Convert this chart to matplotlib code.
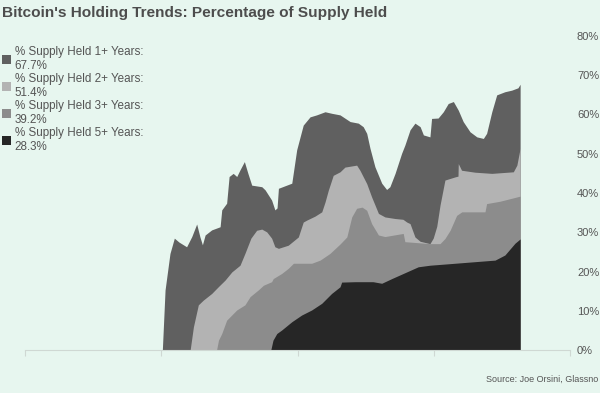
import matplotlib
matplotlib.use("Agg")
import matplotlib.pyplot as plt
from matplotlib.patches import Patch

plt.rcParams['font.family'] = ['Liberation Sans', 'DejaVu Sans']

# % of bitcoin supply last moved more than N years ago
yrs_1y = [2010.04, 2010.14, 2010.32, 2010.48, 2010.65, 2010.93, 2011.12, 2011.30, 2011.42, 2011.51,
          2011.61, 2011.85, 2012.16, 2012.22, 2012.40, 2012.49, 2012.64, 2012.77, 2012.89, 2013.05,
          2013.18, 2013.32, 2013.69, 2013.81, 2014.05, 2014.17, 2014.25, 2014.30, 2014.79, 2014.97,
          2015.21, 2015.46, 2015.70, 2016.01, 2016.26, 2016.56, 2016.93, 2017.23, 2017.41, 2017.54,
          2017.66, 2017.84, 2018.09, 2018.27, 2018.39, 2018.58, 2018.82, 2018.94, 2019.13, 2019.31,
          2019.50, 2019.62, 2019.86, 2019.92, 2020.16, 2020.35, 2020.53, 2020.72, 2020.90, 2021.08,
          2021.33, 2021.58, 2021.82, 2021.94, 2022.13, 2022.31, 2022.61, 2022.86, 2023.09, 2023.17]
held_1y = [0.0, 15.3, 24.6, 28.5, 27.5, 26.3, 28.9, 32.1, 28.8, 26.8,
           29.3, 30.6, 31.4, 35.7, 37.4, 44.2, 45.0, 44.2, 45.9, 48.0,
           45.0, 42.0, 41.6, 40.8, 38.2, 35.7, 36.2, 41.2, 42.5, 51.0,
           57.3, 59.4, 59.9, 60.7, 60.3, 59.9, 58.2, 57.8, 56.9, 55.2,
           51.4, 46.7, 42.5, 40.9, 41.6, 45.0, 50.1, 52.2, 56.1, 57.8,
           56.9, 54.8, 54.3, 59.0, 59.1, 60.7, 62.8, 63.3, 61.1, 58.2,
           55.6, 54.3, 53.9, 55.2, 60.7, 65.0, 65.8, 66.2, 66.8, 67.7]

yrs_2y = [2011.06, 2011.18, 2011.36, 2011.54, 2011.85, 2012.09, 2012.34, 2012.59, 2012.89, 2013.07,
          2013.29, 2013.50, 2013.69, 2013.87, 2014.05, 2014.17, 2014.30, 2014.66, 2015.03, 2015.21,
          2015.34, 2015.64, 2015.89, 2016.01, 2016.13, 2016.31, 2016.56, 2016.74, 2017.17, 2017.29,
          2017.54, 2017.72, 2017.97, 2018.21, 2018.58, 2018.87, 2019.01, 2019.13, 2019.31, 2019.50,
          2019.86, 2019.98, 2020.11, 2020.23, 2020.41, 2020.78, 2020.89, 2020.90, 2021.02, 2021.51,
          2022.13, 2022.92, 2023.05, 2023.17]
held_2y = [0.0, 5.9, 11.5, 12.7, 14.4, 16.1, 17.8, 19.9, 21.6, 24.6,
           28.5, 30.5, 30.8, 30.1, 28.5, 26.3, 25.9, 26.7, 28.8, 32.6,
           33.1, 34.1, 35.2, 37.7, 40.7, 44.5, 45.4, 46.6, 47.1, 45.8,
           42.4, 39.0, 34.8, 33.9, 33.5, 33.3, 32.6, 32.2, 28.8, 27.7,
           27.1, 28.5, 31.5, 36.9, 43.3, 44.1, 44.3, 47.5, 45.8, 45.3,
           45.0, 45.4, 47.1, 51.4]

yrs_3y = [2012.03, 2012.10, 2012.22, 2012.40, 2012.77, 2013.07, 2013.26, 2013.56, 2013.75, 2014.05,
          2014.11, 2014.42, 2014.66, 2014.85, 2015.52, 2015.83, 2016.19, 2016.56, 2016.81, 2016.99,
          2017.17, 2017.37, 2017.54, 2017.72, 2017.97, 2018.21, 2018.88, 2018.94, 2019.86, 2020.23,
          2020.41, 2020.60, 2020.84, 2021.03, 2021.88, 2021.94, 2022.43, 2023.17]
held_3y = [0.0, 2.5, 4.2, 7.6, 10.2, 11.5, 13.6, 15.3, 16.5, 17.4,
           18.2, 19.5, 20.8, 22.1, 22.1, 22.9, 24.6, 27.0, 28.8, 33.9,
           36.1, 36.4, 35.6, 32.2, 29.3, 28.9, 29.7, 27.6, 27.1, 27.1,
           28.4, 30.5, 34.3, 35.2, 35.2, 37.3, 37.9, 39.2]

yrs_5y = [2014.02, 2014.10, 2014.24, 2014.42, 2014.79, 2015.15, 2015.52, 2015.89, 2016.25, 2016.56,
          2016.62, 2017.11, 2017.77, 2018.09, 2018.46, 2019.01, 2019.43, 2019.86, 2020.60, 2021.51,
          2022.25, 2022.61, 2022.98, 2023.17]
held_5y = [0.0, 2.5, 4.2, 5.1, 7.2, 8.9, 10.2, 11.9, 14.4, 16.1,
           17.3, 17.4, 17.4, 17.0, 18.2, 19.9, 21.2, 21.6, 22.0, 22.5,
           22.9, 24.2, 27.2, 28.3]

labels = ['% Supply Held 1+ Years:\n67.7%', '% Supply Held 2+ Years:\n51.4%',
          '% Supply Held 3+ Years:\n39.2%', '% Supply Held 5+ Years:\n28.3%']
colors = ['#606060', '#b3b3b3', '#8c8c8c', '#262626']
yticks = [0, 10, 20, 30, 40, 50, 60, 70, 80]

bg = '#e7f6ef'
fig = plt.figure(figsize=(6, 3.93), dpi=100, facecolor=bg)
ax = fig.add_axes([25/600, 1-350/393, 545/600, 314/393])
ax.set_facecolor(bg)

series = [(yrs_1y, held_1y), (yrs_2y, held_2y), (yrs_3y, held_3y), (yrs_5y, held_5y)]
for (x, y), c in zip(series, colors):
    ax.fill_between(x, 0, y, color=c, linewidth=0)

ax.set_xlim(2005, 2025)
ax.set_ylim(0, 80)
ax.set_xticks([2005, 2010, 2015, 2020, 2025])
ax.set_xticklabels([])
ax.tick_params(axis='x', length=4.5, width=0.8, color='#cfd8d3', direction='out')
ax.yaxis.tick_right()
ax.set_yticks(yticks)
ax.set_yticklabels([f'{t}%' for t in yticks])
ax.tick_params(axis='y', length=0, pad=5, labelsize=8, labelcolor='#555555')
for s in ['left', 'right', 'top']:
    ax.spines[s].set_visible(False)
ax.spines['bottom'].set_color('#cfd8d3')
ax.spines['bottom'].set_linewidth(0.8)

handles = [Patch(facecolor=c, edgecolor='none') for c in colors]
fig.legend(handles, labels, loc='upper left', bbox_to_anchor=(0.0, 1-44/393),
           frameon=False, fontsize=8.4, labelcolor='#555555',
           handlelength=0.75, handleheight=0.75, handletextpad=0.3,
           labelspacing=0.1, borderaxespad=0, borderpad=0.2)

fig.text(2/600, 1-17/393, "Bitcoin's Holding Trends: Percentage of Supply Held",
         fontsize=11.1, fontweight='bold', color='#4d4d4d', va='baseline', ha='left')
fig.text(598/600, 1-379/393, 'Source: Joe Orsini, Glassno', fontsize=6.5,
         color='#555555', ha='right', va='center')

fig.savefig('out.png', dpi=100, facecolor=bg)
